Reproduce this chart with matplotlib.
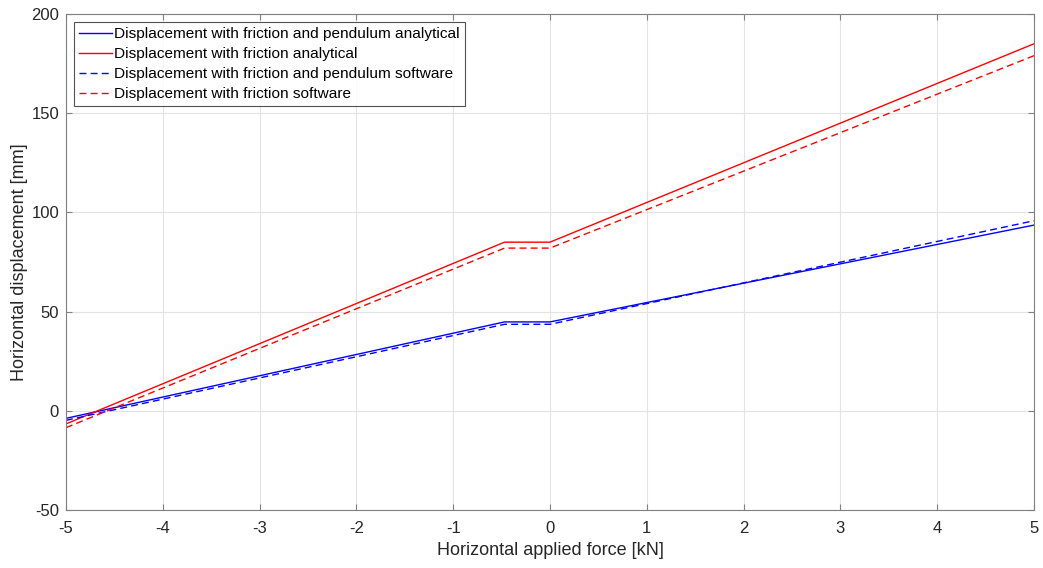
import matplotlib
matplotlib.use("Agg")
import matplotlib.pyplot as plt

plt.rcParams['font.family'] = ['Liberation Sans', 'DejaVu Sans']
plt.rcParams['axes.unicode_minus'] = False

force = [-5, -0.47, 0, 5]
pend_analytical = [-3.8, 44.8, 44.8, 93.6]
fric_analytical = [-6.6, 85.0, 85.0, 185.0]
pend_software = [-4.8, 43.6, 43.6, 95.8]
fric_software = [-8.5, 82.0, 82.0, 179.0]

labels = ["Displacement with friction and pendulum analytical",
          "Displacement with friction analytical",
          "Displacement with friction and pendulum software",
          "Displacement with friction software"]

fig = plt.figure(figsize=(10.43, 5.68), dpi=100)
ax = fig.add_axes([66/1043, 58/568, (1034-66)/1043, (510-14)/568])

blue = '#0000ff'
red = '#ff0000'
ax.plot(force, pend_analytical, color=blue, lw=1.0, label=labels[0])
ax.plot(force, fric_analytical, color=red, lw=1.0, label=labels[1])
ax.plot(force, pend_software, color=blue, lw=1.0, ls=(0, (5, 3)), label=labels[2])
ax.plot(force, fric_software, color=red, lw=1.0, ls=(0, (5, 3)), label=labels[3])

ax.set_xlim(-5, 5)
ax.set_ylim(-50, 200)
ax.set_xticks(range(-5, 6))
ax.set_yticks(range(-50, 201, 50))
ax.grid(True, color='#e3e3e3', lw=0.8)
ax.set_axisbelow(True)
for s in ax.spines.values():
    s.set_color('#808080')
    s.set_linewidth(0.8)
ax.tick_params(direction='in', top=True, right=True, length=4, color='#808080',
               labelsize=12, labelcolor='#262626')
ax.tick_params(axis='x', pad=8)
ax.tick_params(axis='y', pad=5)
ax.set_xlabel("Horizontal applied force [kN]", fontsize=13, color='#262626', labelpad=4)
ax.set_ylabel("Horizontal displacement [mm]", fontsize=13, color='#262626', labelpad=2)

leg = ax.legend(loc='upper left', bbox_to_anchor=(0.008, 0.984), fontsize=11.1,
                frameon=True, fancybox=False, edgecolor='#262626', borderpad=0.35,
                handlelength=2.1, handletextpad=0.15, labelspacing=0.38, borderaxespad=0)
leg.get_frame().set_linewidth(0.8)

fig.savefig("out.png", dpi=100)
